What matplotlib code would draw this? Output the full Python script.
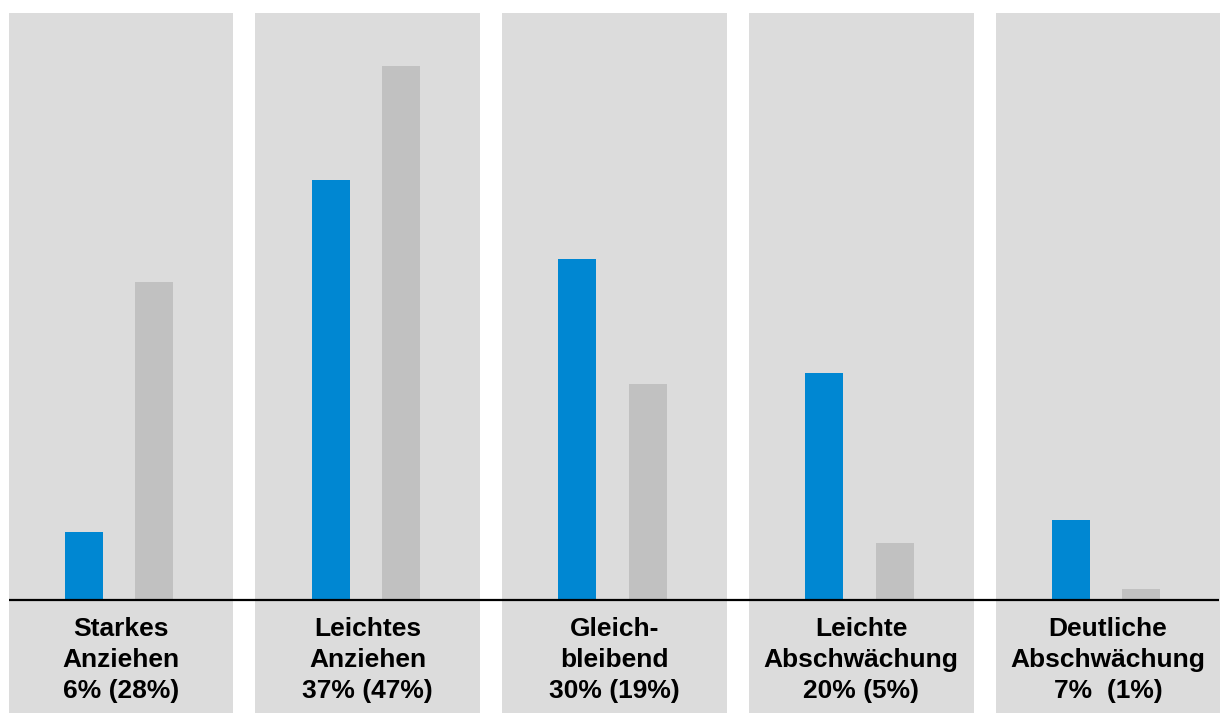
import matplotlib
matplotlib.use("Agg")
import matplotlib.pyplot as plt
from matplotlib.patches import Rectangle

categories = ["Starkes\nAnziehen", "Leichtes\nAnziehen", "Gleich-\nbleibend",
              "Leichte\nAbschwächung", "Deutliche\nAbschwächung"]
current = [6, 37, 30, 20, 7]
previous = [28, 47, 19, 5, 1]
value_labels = ["6% (28%)", "37% (47%)", "30% (19%)", "20% (5%)", "7%  (1%)"]

BLUE = "#0087D2"
GREY_BAR = "#C1C1C1"
PANEL = "#DCDCDC"

plt.rcParams['font.family'] = ['Liberation Sans', 'DejaVu Sans']

fig = plt.figure(figsize=(12.27, 7.13), dpi=100)
ax = fig.add_axes([0, 0, 1, 1])

px_per_unit = 246.75
px_per_pct = 11.36
base_px_from_bottom = 113
ax.set_xlim(-121 / px_per_unit, (1227 - 121) / px_per_unit)
ax.set_ylim(-base_px_from_bottom / px_per_pct, (713 - base_px_from_bottom) / px_per_pct)
ax.axis("off")

panel_w = 0.91
panel_top = 51.7
ybot = ax.get_ylim()[0]
for i in range(len(categories)):
    ax.add_patch(Rectangle((i - panel_w / 2, ybot), panel_w, panel_top - ybot,
                           facecolor=PANEL, edgecolor="none", zorder=0))

x = list(range(len(categories)))
bw = 38 / px_per_unit
ax.bar([i - 0.15 for i in x], current, width=bw, color=BLUE, zorder=2)
ax.bar([i + 0.135 for i in x], previous, width=bw, color=GREY_BAR, zorder=2)

ax.plot([9 / px_per_unit - 121 / px_per_unit, (1219 - 121) / px_per_unit], [0, 0],
        color="black", lw=1.6, zorder=3, solid_capstyle="butt")

for i, (c, v) in enumerate(zip(categories, value_labels)):
    ax.text(i, -5.3, c + "\n" + v, ha="center", va="center", fontsize=19,
            fontweight="bold", linespacing=1.36, zorder=4)

fig.savefig("out.png", dpi=100)
